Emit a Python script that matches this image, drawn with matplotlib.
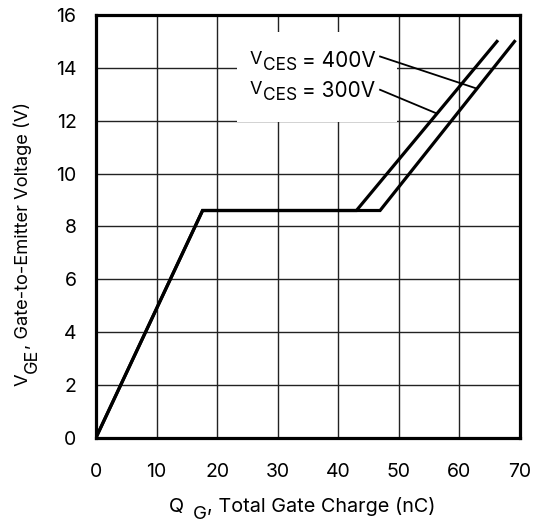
import numpy as np
import matplotlib
matplotlib.use("Agg")
import matplotlib.pyplot as plt
from matplotlib.patches import Rectangle

plt.rcParams['font.family'] = ['Inter', 'DejaVu Sans']

# gate charge curves (nC, V)
qg_300 = [0, 17.6, 43.0, 66.2]
vge_300 = [0, 8.6, 8.6, 15.0]
qg_400 = [0, 17.6, 46.9, 69.1]
vge_400 = [0, 8.6, 8.6, 15.0]

x_ticks = [0, 10, 20, 30, 40, 50, 60, 70]
y_ticks = [0, 2, 4, 6, 8, 10, 12, 14, 16]

W, H = 538, 523
fig = plt.figure(figsize=(W / 100, H / 100), dpi=100)
ax = fig.add_axes([0.1784, 0.1631, 0.7881, 0.8082])
renderer = fig.canvas.get_renderer()


def chain_text(x0, y0, parts, rotation=0):
    # x0, y0 in image pixels (top-left origin); parts = (text, size, drop_px, gap_px)
    pos = 0.0
    for s, size, drop, gap in parts:
        pos += gap
        if rotation == 0:
            x, y = x0 + pos, y0 + drop
        else:
            x, y = x0 + drop, y0 - pos
        t = fig.text(x / W, 1 - y / H, s, fontsize=size, rotation=rotation,
                     rotation_mode='anchor', ha='left', va='baseline')
        bb = t.get_window_extent(renderer)
        pos += bb.width if rotation == 0 else bb.height


ax.set_xlim(0, 70)
ax.set_ylim(0, 16)
ax.set_xticks(x_ticks)
ax.set_yticks(y_ticks)
ax.grid(True, color='#222222', linewidth=1.0, zorder=0)
ax.set_axisbelow(True)
ax.tick_params(length=0, labelsize=14)
ax.tick_params(axis='x', pad=18)
ax.tick_params(axis='y', pad=14)
for s in ax.spines.values():
    s.set_linewidth(2.3)

# white box behind the legend text
ax.add_patch(Rectangle((23.2, 11.96), 26.5, 3.4, facecolor='white',
                       edgecolor='none', zorder=1))

ax.plot(qg_300, vge_300, color='black', linewidth=2.3, zorder=3,
        solid_joinstyle='miter')
ax.plot(qg_400, vge_400, color='black', linewidth=2.3, zorder=3,
        solid_joinstyle='miter')

# legend labels with pointer lines
chain_text(250, 67.3, [('V', 13, -3.3, 0), ('CES', 12.5, 2.7, 0),
                       ('= 400V', 15, 0, 5)])
chain_text(250, 97.3, [('V', 13, -3.3, 0), ('CES', 12.5, 2.7, 0),
                       ('= 300V', 15, 0, 5)])
end400 = 62.9
end300 = 56.3
ax.plot([46.9, end400], [14.43, np.interp(end400, qg_400, vge_400)],
        color='black', linewidth=1.3, zorder=4)
ax.plot([46.9, end300], [13.17, np.interp(end300, qg_300, vge_300)],
        color='black', linewidth=1.3, zorder=4)

# axis titles
chain_text(169, 512, [('Q', 14.3, 0, 0), ('G', 13.5, 7, 9),
                      (', Total Gate Charge (nC)', 14.3, 0, 0)])
chain_text(28, 386, [('V', 13.2, 0, 0), ('GE', 13, 9, 0),
                     (', Gate-to-Emitter Voltage (V)', 13.2, 0, 0)],
           rotation=90)

fig.savefig('out.png', dpi=100)
